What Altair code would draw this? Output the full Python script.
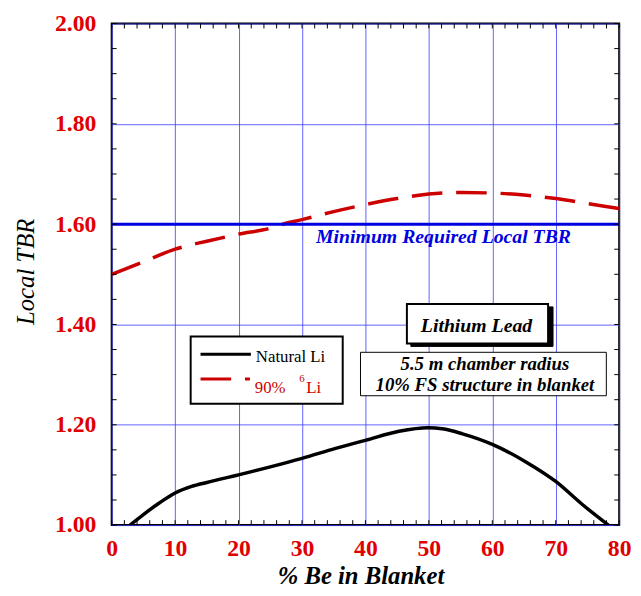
import altair as alt
import pandas as pd

# ---------------- data ----------------
natural_x = [2.9, 5, 7.5, 10, 12.6, 15, 20, 24.7, 30, 35.3, 40, 45.3, 49.9, 52.1, 55.3, 60, 65.3, 70, 74.2, 78.3]
natural_y = [1.000, 1.021, 1.044, 1.064, 1.077, 1.085, 1.100, 1.115, 1.133, 1.153, 1.169, 1.187, 1.194, 1.192,
             1.182, 1.161, 1.126, 1.087, 1.041, 1.000]

li6_x = [0, 5, 10, 15, 20, 25, 27, 30, 35, 40, 45, 50, 55, 60, 65, 70, 75, 80]
li6_y = [1.500, 1.525, 1.550, 1.566, 1.580, 1.592, 1.600, 1.609, 1.625, 1.639, 1.651, 1.660, 1.663, 1.662,
         1.658, 1.651, 1.641, 1.631]

min_required = [1.60]

x_major = [0, 10, 20, 30, 40, 50, 60, 70, 80]
y_major = [1.0, 1.2, 1.4, 1.6, 1.8, 2.0]
x_minor = list(range(0, 81, 2))
y_minor = [round(1.0 + 0.05 * i, 2) for i in range(21)]

# ---------------- style ----------------
W, H = 514, 508
RED = "#e00000"
BLUE = "#0000e0"
GRID = "#3a3aff"
SERIF = "Liberation Serif"

xs = alt.Scale(domain=[0, 80], nice=False, zero=False)
ys = alt.Scale(domain=[1.0, 2.0], nice=False, zero=False)

x_axis = alt.Axis(values=x_major, grid=True, gridColor=GRID, gridWidth=0.8, ticks=False, domain=False,
                  labelColor=RED, labelFont=SERIF, labelFontWeight="bold", labelFontSize=24,
                  labelPadding=12, labelFlush=False, labelOverlap=False, labelBound=False,
                  title="% Be in Blanket", titleFont=SERIF, titleFontStyle="italic", titleFontWeight="bold",
                  titleFontSize=25, titleColor="black", titleX=252, titleY=59, titleAlign="center",
                  titleBaseline="alphabetic")
y_axis = alt.Axis(values=y_major, format=".2f", grid=True, gridColor=GRID, gridWidth=0.8, ticks=False,
                  domain=False, labelColor=RED, labelFont=SERIF, labelFontWeight="bold", labelFontSize=24,
                  labelPadding=16, labelFlush=False, labelOverlap=False, labelBound=False,
                  title="Local TBR", titleFont=SERIF, titleFontStyle="italic", titleFontWeight="normal",
                  titleFontSize=25, titleColor="black", titleX=-87, titleY=251, titleAngle=270,
                  titleAlign="center", titleBaseline="middle")

X = alt.X("x:Q", scale=xs, axis=x_axis)
Y = alt.Y("y:Q", scale=ys, axis=y_axis)

nat_df = pd.DataFrame({"x": natural_x, "y": natural_y})
li6_df = pd.DataFrame({"x": li6_x, "y": li6_y})

natural = alt.Chart(nat_df).mark_line(color="black", strokeWidth=3.5, interpolate="monotone",
                                      clip=True).encode(x=X, y=Y)
li6 = alt.Chart(li6_df).mark_line(color="#cc0000", strokeWidth=3.5, strokeDash=[31, 14],
                                  interpolate="monotone", clip=True).encode(x=X, y=Y)

minline = alt.Chart(pd.DataFrame({"y": min_required})).mark_rule(color=BLUE, strokeWidth=3).encode(y=Y)

# inward ticks on all four sides
xt = pd.DataFrame({"x": x_minor})
yt = pd.DataFrame({"y": y_minor})
tick_b = alt.Chart(xt).mark_rule(color="black", strokeWidth=1).encode(x=X, y=alt.value(H), y2=alt.value(H - 5))
tick_t = alt.Chart(xt).mark_rule(color="black", strokeWidth=1).encode(x=X, y=alt.value(0), y2=alt.value(5))
tick_l = alt.Chart(yt).mark_rule(color="black", strokeWidth=1).encode(y=Y, x=alt.value(0), x2=alt.value(5))
tick_r = alt.Chart(yt).mark_rule(color="black", strokeWidth=1).encode(y=Y, x=alt.value(W), x2=alt.value(W - 5))

one = pd.DataFrame({"a": [0]})


def text(t, x, y, size, color="black", style="normal", weight="normal", align="left"):
    return alt.Chart(one).mark_text(font=SERIF, fontSize=size, color=color, fontStyle=style,
                                    fontWeight=weight, align=align, baseline="alphabetic").encode(
        x=alt.value(x), y=alt.value(y), text=alt.value(t))


def box(x1, y1, x2, y2, fill="white", stroke="black", sw=1.0):
    return alt.Chart(one).mark_rect(fill=fill, stroke=stroke, strokeWidth=sw).encode(
        x=alt.value(x1), x2=alt.value(x2), y=alt.value(y1), y2=alt.value(y2))


min_label = text("Minimum Required Local TBR", 207, 222.5, 20, BLUE, "italic", "bold")

# legend
leg_box = box(80, 317, 234, 385, sw=2)
leg_nat = alt.Chart(one).mark_rule(color="black", strokeWidth=3).encode(
    x=alt.value(90), x2=alt.value(141), y=alt.value(335))
leg_li6 = alt.Chart(one).mark_rule(color="#cc0000", strokeWidth=3, strokeDash=[31, 14]).encode(
    x=alt.value(90), x2=alt.value(140), y=alt.value(360))
leg_t1 = text("Natural Li", 146, 343, 17)
leg_t2 = text("90%", 145, 374, 17, "#cc0000")
leg_t3 = text("6", 190, 363, 11, "#cc0000")
leg_t4 = text("Li", 197, 374, 17, "#cc0000")

# annotation boxes
ll_shadow = box(303, 287, 447, 327, fill="black", stroke="black")
ll_box = box(299, 284, 442, 324, sw=2)
ll_text = text("Lithium Lead", 369.5, 312, 20, "black", "italic", "bold", "center")
info_box = box(252, 333, 501, 377, sw=1)
info_t1 = text("5.5 m chamber radius", 378, 351, 19, "black", "italic", "bold", "center")
info_t2 = text("10% FS structure in blanket", 378, 372, 19, "black", "italic", "bold", "center")

chart = alt.layer(
    natural, li6, minline, tick_b, tick_t, tick_l, tick_r, min_label,
    leg_box, leg_nat, leg_li6, leg_t1, leg_t2, leg_t3, leg_t4,
    ll_shadow, ll_box, ll_text, info_box, info_t1, info_t2,
).properties(
    width=W, height=H,
    autosize=alt.AutoSizeParams(type="none"),
    padding={"left": 105, "top": 12, "right": 14, "bottom": 60},
    background="white",
).configure_view(stroke="black", strokeWidth=2)

chart.save("out.html", embed_options={"renderer": "svg", "actions": False})
